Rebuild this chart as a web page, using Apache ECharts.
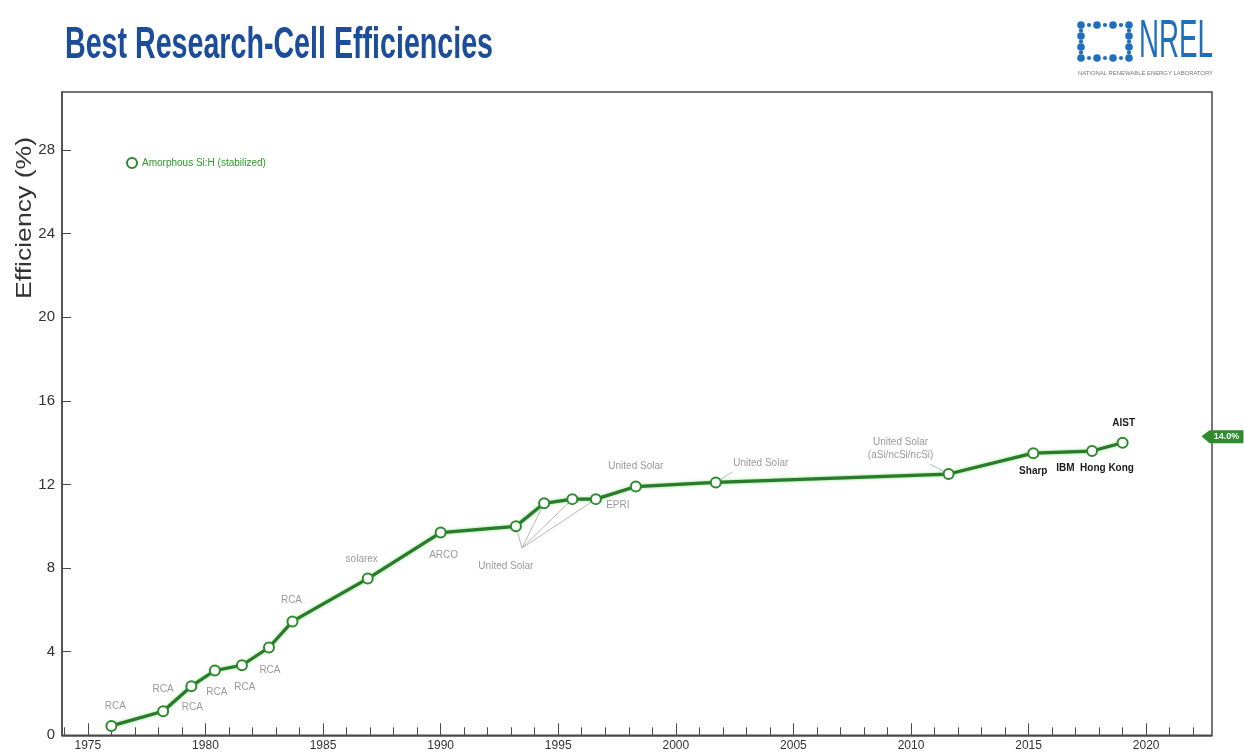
<!DOCTYPE html>
<html><head><meta charset="utf-8">
<script src="https://cdn.jsdelivr.net/npm/echarts@6/dist/echarts.min.js"></script>
<style>html,body{margin:0;padding:0;background:#fff}#c{width:1244px;height:753px}</style>
</head><body><div id="c"></div>
<script>
// ---------------- data ----------------
const seriesName = 'Amorphous Si:H (stabilized)';
const years = [1976.0, 1978.2, 1979.4, 1980.4, 1981.55, 1982.7, 1983.7, 1986.9, 1990.0, 1993.2, 1994.4, 1995.6, 1996.6, 1998.3, 2001.7, 2011.6, 2015.2, 2017.7, 2019.0];
const efficiencies = [0.45, 1.15, 2.35, 3.1, 3.35, 4.2, 5.45, 7.5, 9.7, 10.0, 11.1, 11.3, 11.3, 11.9, 12.1, 12.5, 13.5, 13.6, 14.0];
const pointLabels = ['RCA', 'RCA', 'RCA', 'RCA', 'RCA', 'RCA', 'RCA', 'solarex', 'ARCO', 'United Solar', '', '', 'EPRI', 'United Solar', 'United Solar', 'United Solar\n(aSi/ncSi/ncSi)', 'Sharp', 'IBM  Hong Kong', 'AIST'];
const yTickValues = [0, 4, 8, 12, 16, 20, 24, 28];
const xMajorTicks = [1975, 1980, 1985, 1990, 1995, 2000, 2005, 2010, 2015, 2020];
const xMinorTicks = [1974, 1975, 1976, 1977, 1978, 1979, 1980, 1981, 1982, 1983, 1984, 1985, 1986, 1987, 1988, 1989, 1990, 1991, 1992, 1993, 1994, 1995, 1996, 1997, 1998, 1999, 2000, 2001, 2002, 2003, 2004, 2005, 2006, 2007, 2008, 2009, 2010, 2011, 2012, 2013, 2014, 2015, 2016, 2017, 2018, 2019, 2020, 2021, 2022];
const recordValue = 14.0;
const recordText = '14.0%';
const titleText = 'Best Research-Cell Efficiencies';
const yAxisTitle = 'Efficiency (%)';
const logoText = 'NREL';
const logoSubText = 'NATIONAL RENEWABLE ENERGY LABORATORY';
// leader lines: anchor [year, value] -> point index
const leaderAnchor = [1993.46, 8.96];
const leaderTargets = [9, 10, 11, 12];
const extraLeaders = [[[2002.4, 12.6], 14], [[2010.8, 12.98], 15]];

// ---------------- styles ----------------
const SANS = '"Liberation Sans", Arial, Helvetica, sans-serif';
const GREEN = '#2c8a2c';
const labelOffsets = [[4,-20],[0,-22],[1,21],[2,22],[3,22],[1,23],[-1,-21],[-6,-19],[3,23],[-10,40],[0,0],[0,0],[22,6],[0,-20],[45,-19],[-48,-25],[0,18],[3,17],[1,-19]];
const darkLabel = [16, 17, 18];
const X_MIN = 1973.9, X_MAX = 2022.8, Y_MAX = 30.78;

function measure(text, font) {
  const ctx = document.createElement('canvas').getContext('2d');
  ctx.font = font;
  return ctx.measureText(text).width;
}
function fitScale(text, font, target) { return target / measure(text, font); }

const data = years.map((yr, i) => {
  const dark = darkLabel.indexOf(i) >= 0;
  return {
    value: [yr, efficiencies[i]],
    label: {
      show: pointLabels[i] !== '',
      formatter: pointLabels[i],
      position: 'inside',
      offset: labelOffsets[i],
      color: dark ? '#1a1a1a' : '#9a9a9a',
      fontSize: dark ? 10 : 10,
      fontWeight: dark ? 'bold' : 'normal',
      fontFamily: SANS,
      lineHeight: 13,
      align: 'center'
    }
  };
});

const leaderData = leaderTargets.map(i => [{coord: leaderAnchor}, {coord: [years[i], efficiencies[i]]}])
  .concat(extraLeaders.map(l => [{coord: l[0]}, {coord: [years[l[1]], efficiencies[l[1]]]}]));

// NREL logo dots
const BLUE = '#1f6fbf';
const logoDots = [];
const gx = [1081, 1097, 1113, 1129], gy = [25, 36, 47, 58];
for (let r = 0; r < 4; r++) for (let c = 0; c < 4; c++) {
  const edge = r === 0 || r === 3 || c === 0 || c === 3;
  if (!edge) continue;
  logoDots.push({type: 'circle', shape: {cx: gx[c], cy: gy[r], r: 3.8}, style: {fill: BLUE}});
}
[[1089,25],[1105,25],[1121,25],[1089,58],[1105,58],[1121,58],[1081,30.5],[1081,41.5],[1081,52.5],[1129,30.5],[1129,41.5],[1129,52.5]].forEach(p => {
  logoDots.push({type: 'circle', shape: {cx: p[0], cy: p[1], r: 2.1}, style: {fill: BLUE}});
});

const titleFont = 'bold 44px "Liberation Sans"';
const logoFont = '54px "Liberation Sans"';
const subFont = '6px "Liberation Sans"';
const yTitleFont = '22px "Liberation Sans"';

const chart = echarts.init(document.getElementById('c'), null, {renderer: 'canvas'});
chart.setOption({
  animation: false,
  backgroundColor: '#fff',
  legend: {
    left: 121, top: 152,
    data: [{name: seriesName, icon: 'circle'}],
    itemWidth: 10, itemHeight: 10, itemGap: 6,
    itemStyle: {color: '#fff', borderColor: GREEN, borderWidth: 2},
    textStyle: {color: '#2a9a2a', fontSize: 10, fontFamily: SANS}
  },
  grid: {left: 62, right: 32, top: 92, bottom: 17.7, show: true, borderColor: '#4a4a4a', borderWidth: 1.5, containLabel: false},
  xAxis: [{
    type: 'value', min: X_MIN, max: X_MAX, position: 'bottom',
    axisLine: {show: true, lineStyle: {color: '#4a4a4a', width: 1.5}},
    axisTick: {show: true, inside: true, length: 12, customValues: xMajorTicks, lineStyle: {color: '#4a4a4a'}},
    axisLabel: {show: true, customValues: xMajorTicks, formatter: v => String(Math.round(v)), margin: 4, fontSize: 12, color: '#333', fontFamily: SANS},
    splitLine: {show: false}
  }, {
    type: 'value', min: X_MIN, max: X_MAX, position: 'bottom',
    axisLine: {show: false},
    axisTick: {show: true, inside: true, length: 8, customValues: xMinorTicks, lineStyle: {color: '#4a4a4a'}},
    axisLabel: {show: false},
    splitLine: {show: false}
  }],
  yAxis: {
    type: 'value', min: 0, max: Y_MAX,
    axisLine: {show: true, lineStyle: {color: '#4a4a4a', width: 1.5}},
    axisTick: {show: true, inside: true, length: 9, customValues: yTickValues, lineStyle: {color: '#4a4a4a'}},
    axisLabel: {show: true, customValues: yTickValues, margin: 7, fontSize: 15, color: '#333', fontFamily: SANS},
    splitLine: {show: false}
  },
  graphic: [
    {type: 'text', x: 65, y: 46, scaleX: fitScale(titleText, titleFont, 428),
      style: {text: titleText, font: titleFont, fill: '#1b4d9b', align: 'left', verticalAlign: 'middle'}},
    {type: 'text', x: 25, y: 218, rotation: Math.PI / 2, scaleX: fitScale(yAxisTitle, yTitleFont, 162),
      style: {text: yAxisTitle, font: yTitleFont, fill: '#333', align: 'center', verticalAlign: 'middle'}},
    {type: 'text', x: 1139, y: 42, scaleX: fitScale(logoText, logoFont, 74),
      style: {text: logoText, font: logoFont, fill: BLUE, align: 'left', verticalAlign: 'middle'}},
    {type: 'text', x: 1078, y: 73, scaleX: fitScale(logoSubText, subFont, 135),
      style: {text: logoSubText, font: subFont, fill: '#777', align: 'left', verticalAlign: 'middle'}}
  ].concat(logoDots),
  series: [{
    name: seriesName,
    type: 'line',
    data: data,
    symbol: 'circle', symbolSize: 10,
    itemStyle: {color: '#fff', borderColor: GREEN, borderWidth: 2},
    lineStyle: {color: '#2a7a2a', width: 3.2, shadowColor: 'rgba(70,200,70,0.7)', shadowBlur: 3},
    z: 3,
    markLine: {
      silent: true, symbol: 'none', animation: false,
      lineStyle: {color: '#b8b8b8', width: 1, type: 'solid'},
      label: {show: false},
      data: leaderData,
      z: 1
    },
    markPoint: {
      silent: true,
      data: [{coord: [X_MAX, recordValue], value: recordValue}],
      symbol: 'path://M0,6 L8,0 L42,0 L42,13 L8,13 Z',
      symbolSize: [42, 13],
      symbolOffset: [10.5, -6],
      symbolKeepAspect: false,
      itemStyle: {color: '#2e8b2e'},
      label: {show: true, formatter: recordText, color: '#fff', fontWeight: 'bold', fontSize: 9, fontFamily: SANS, position: 'inside', offset: [4, 0]}
    }
  }]
});
</script>
</body></html>
